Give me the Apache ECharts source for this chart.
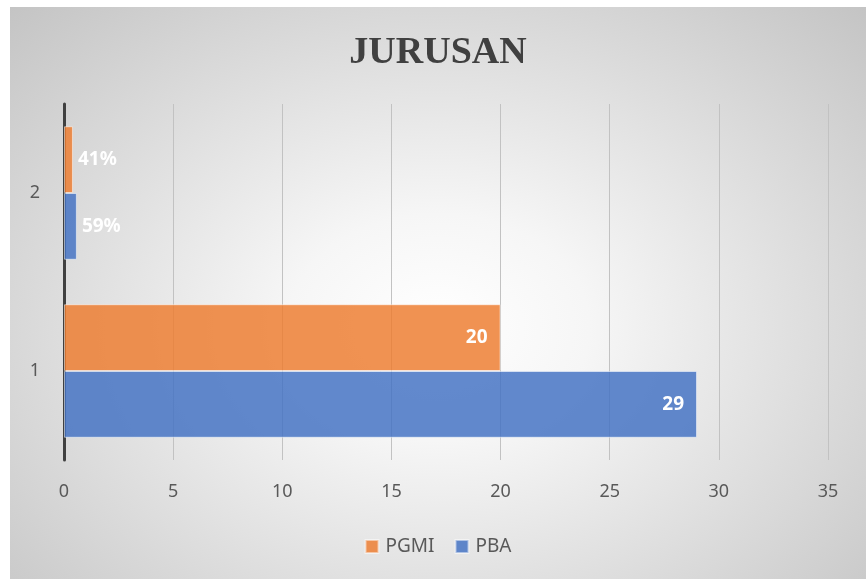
<!DOCTYPE html>
<html>
<head>
<meta charset="utf-8">
<script src="https://cdn.jsdelivr.net/npm/echarts@6/dist/echarts.min.js"></script>
<style>
  html, body { margin: 0; padding: 0; background: #ffffff; width: 866px; height: 579px; overflow: hidden; }
  #chart {
    position: absolute; left: 10px; top: 7px; width: 856px; height: 572px;
    background: radial-gradient(ellipse farthest-corner at 50% 56%, #ffffff 0%, #f6f6f6 25%, #c4c4c4 100%);
  }
</style>
</head>
<body>
<div id="chart"></div>
<script>
const categories = ['1', '2'];
const seriesNames = ['PGMI', 'PBA'];
const pgmiValues = [20, 0.41];
const pbaValues = [29, 0.59];
const pgmiLabels = ['20', '41%'];
const pbaLabels = ['29', '59%'];
const xTicks = [0, 5, 10, 15, 20, 25, 30, 35];

function buildData(values, labels) {
  return values.map((v, i) => ({
    value: v,
    label: {
      formatter: labels[i],
      position: v < 5 ? 'right' : 'insideRight',
      distance: v < 5 ? 5 : 13
    }
  }));
}

const chart = echarts.init(document.getElementById('chart'), null, { renderer: 'canvas' });
const labelStyle = { show: true, color: '#ffffff', fontFamily: 'Noto Sans', fontWeight: 'bold', fontSize: 19 };

chart.setOption({
  backgroundColor: 'transparent',
  animation: false,
  title: {
    text: 'JURUSAN',
    left: 'center',
    top: 22,
    textStyle: { fontFamily: 'Liberation Serif', fontWeight: 'bold', fontSize: 38, color: '#404040' }
  },
  legend: {
    data: ['PGMI', 'PBA'],
    bottom: 18,
    left: 'center',
    itemWidth: 13,
    itemHeight: 13,
    itemGap: 20,
    icon: 'rect',
    textStyle: { fontFamily: 'Noto Sans', fontSize: 19, color: '#595959', padding: [0, 0, 0, 2] }
  },
  grid: { left: 54, right: 38, top: 97, bottom: 119, containLabel: false },
  xAxis: {
    type: 'value',
    min: xTicks[0],
    max: xTicks[xTicks.length - 1],
    interval: 5,
    axisLine: { show: false },
    axisTick: { show: false },
    axisLabel: { margin: 23, fontFamily: 'Noto Sans', fontSize: 18, color: '#595959' },
    splitLine: { show: true, lineStyle: { color: '#c2c2c2', width: 1 } }
  },
  yAxis: {
    type: 'category',
    data: categories,
    axisLine: { show: true, lineStyle: { color: '#404040', width: 3 } },
    axisTick: { show: false },
    axisLabel: { margin: 24, fontFamily: 'Noto Sans', fontSize: 18, color: '#595959' },
    splitLine: { show: false }
  },
  series: [
    {
      name: seriesNames[0],
      type: 'bar',
      data: buildData(pgmiValues, pgmiLabels),
      barGap: '0%',
      barCategoryGap: '25%',
      itemStyle: { color: 'rgba(237,125,49,0.84)', borderColor: 'rgba(255,255,255,0.5)', borderWidth: 1 },
      label: labelStyle
    },
    {
      name: seriesNames[1],
      type: 'bar',
      data: buildData(pbaValues, pbaLabels),
      barGap: '0%',
      barCategoryGap: '25%',
      itemStyle: { color: 'rgba(68,114,196,0.84)', borderColor: 'rgba(255,255,255,0.5)', borderWidth: 1 },
      label: labelStyle
    }
  ]
});
</script>
</body>
</html>
